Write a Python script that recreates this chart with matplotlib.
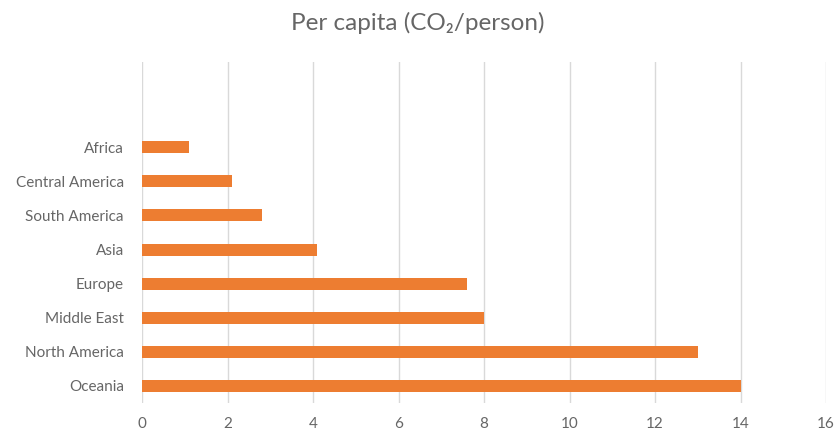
import matplotlib
matplotlib.use("Agg")
import matplotlib.pyplot as plt

plt.rcParams['font.family'] = ['Lato', 'DejaVu Sans']

regions = ["Oceania", "North America", "Middle East", "Europe", "Asia",
           "South America", "Central America", "Africa"]
per_capita = [14.0, 13.0, 8.0, 7.6, 4.1, 2.8, 2.1, 1.1]
x_ticks = [0, 2, 4, 6, 8, 10, 12, 14, 16]

bar_color = "#ED7D31"
text_color = "#666666"
grid_color = "#D9D9D9"

fig = plt.figure(figsize=(8.36, 4.34), dpi=100)
ax = fig.add_axes([142 / 836, 31 / 434, 684 / 836, 341 / 434])

pos = list(range(len(regions)))
ax.barh(pos, per_capita, height=0.35, color=bar_color, zorder=3)

ax.set_xlim(0, 16)
ax.set_ylim(-0.5, 9.5)
ax.set_xticks(x_ticks)
ax.set_xticklabels([str(t) for t in x_ticks])
ax.set_yticks(pos)
ax.set_yticklabels(regions)

ax.grid(axis="x", color=grid_color, linewidth=1, zorder=0)
for s in ax.spines.values():
    s.set_visible(False)
ax.tick_params(axis="both", length=0, colors=text_color, labelsize=11)
ax.tick_params(axis="x", pad=10)
ax.tick_params(axis="y", pad=13)

fig.text(0.5, 1 - 23 / 434, "Per capita (CO\u2082/person)", ha="center", va="center",
         fontsize=17.5, color=text_color)

fig.savefig("out.png", dpi=100)
